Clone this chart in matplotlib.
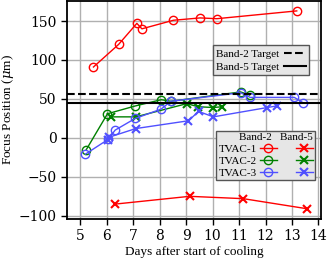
import matplotlib
matplotlib.use("Agg")
import matplotlib.pyplot as plt
from matplotlib.lines import Line2D

plt.rcParams['font.family'] = ['Liberation Serif', 'DejaVu Serif']
plt.rcParams['mathtext.fontset'] = 'dejavuserif'

# TVAC-1
t1_b2_x = [5.5, 6.45, 7.14, 7.33, 8.52, 9.53, 10.16, 13.18]
t1_b2_y = [91, 120, 147, 140, 151, 154, 153, 163]
t1_b5_x = [6.31, 9.13, 11.16, 13.58]
t1_b5_y = [-85, -75, -78, -91]
# TVAC-2
t2_b2_x = [5.23, 6.03, 7.08, 8.06, 8.42, 11.06, 11.4]
t2_b2_y = [-15, 31, 41, 49, 47, 59, 55]
t2_b5_x = [6.15, 7.1, 9.03, 9.45, 10.03, 10.37]
t2_b5_y = [27, 27, 44, 40, 39, 40]
# TVAC-3
t3_b2_x = [5.19, 6.05, 6.32, 7.08, 8.06, 8.42, 11.06, 11.42, 13.09, 13.42]
t3_b2_y = [-21, -2, 10, 25, 37, 47, 58, 52, 52, 45]
t3_b5_x = [6.05, 6.1, 7.1, 9.09, 9.47, 10.03, 12.07, 12.42]
t3_b5_y = [-3, 1, 12, 22, 34, 27, 39, 41]

band2_target = 56
band5_target = 45

xticks = [5, 6, 7, 8, 9, 10, 11, 12, 13, 14]
yticks = [-100, -50, 0, 50, 100, 150]

fig = plt.figure(figsize=(3.3, 2.6), dpi=100)
ax = fig.add_axes([0.203, 0.158, 0.77, 0.839])

red = '#ff0000'
green = '#008000'
blue = '#5050ff'
ms = 6
lw = 1.0

ax.plot(t1_b2_x, t1_b2_y, color=red, marker='o', mfc='none', ms=ms, lw=lw)
ax.plot(t1_b5_x, t1_b5_y, color=red, marker='x', ms=ms, lw=lw, mew=1.5)
ax.plot(t2_b2_x, t2_b2_y, color=green, marker='o', mfc='none', ms=ms, lw=lw)
ax.plot(t2_b5_x, t2_b5_y, color=green, marker='x', ms=ms, lw=lw, mew=1.5)
ax.plot(t3_b2_x, t3_b2_y, color=blue, marker='o', mfc='none', ms=ms, lw=lw)
ax.plot(t3_b5_x, t3_b5_y, color=blue, marker='x', ms=ms, lw=lw, mew=1.5)

h2 = ax.axhline(band2_target, color='black', ls='--', lw=1.5)
h5 = ax.axhline(band5_target, color='black', ls='-', lw=1.5)

ax.set_xlim(4.5, 14.1)
ax.set_ylim(-104, 176)
ax.set_xticks(xticks)
ax.set_yticks(yticks)
ax.tick_params(labelsize=10, width=1.0, length=4, labelfontfamily='DejaVu Serif')
ax.grid(True, color='#b0b0b0', lw=1.0)
ax.set_axisbelow(True)
for s in ax.spines.values():
    s.set_linewidth(1.3)

ax.set_xlabel('Days after start of cooling', fontsize=9.5, labelpad=2)
ax.set_ylabel(r'Focus Position ($\mu$m)', fontsize=9.5, labelpad=1.5)

leg1 = ax.legend([h2, h5], ['Band-2 Target', 'Band-5 Target'],
                 loc='upper right', bbox_to_anchor=(0.953, 0.795), markerfirst=False,
                 fontsize=8, fancybox=False, edgecolor='#555555', framealpha=1,
                 facecolor='#e6e6e6', handlelength=2.0, borderpad=0.3,
                 labelspacing=0.3, handletextpad=0.4, borderaxespad=0)
ax.add_artist(leg1)

handles = [
    Line2D([], [], color=red, marker='o', mfc='none', ms=ms, lw=lw),
    Line2D([], [], color=green, marker='o', mfc='none', ms=ms, lw=lw),
    Line2D([], [], color=blue, marker='o', mfc='none', ms=ms, lw=lw),
    Line2D([], [], color=red, marker='x', ms=ms, lw=lw, mew=1.5),
    Line2D([], [], color=green, marker='x', ms=ms, lw=lw, mew=1.5),
    Line2D([], [], color=blue, marker='x', ms=ms, lw=lw, mew=1.5),
]
labels = ['TVAC-1', 'TVAC-2', 'TVAC-3', ' ', ' ', ' ']
leg2 = ax.legend(handles, labels, ncol=2, loc='upper right',
                 bbox_to_anchor=(0.976, 0.404), markerfirst=False,
                 fontsize=8, fancybox=False, edgecolor='#555555', framealpha=1,
                 facecolor='#e6e6e6', handlelength=1.5, borderpad=0.2,
                 labelspacing=0.2, handletextpad=0.3, columnspacing=1.2,
                 borderaxespad=0, title='Band-2   Band-5', title_fontsize=8,
                 alignment='right')

fig.savefig('out.png', dpi=100)
